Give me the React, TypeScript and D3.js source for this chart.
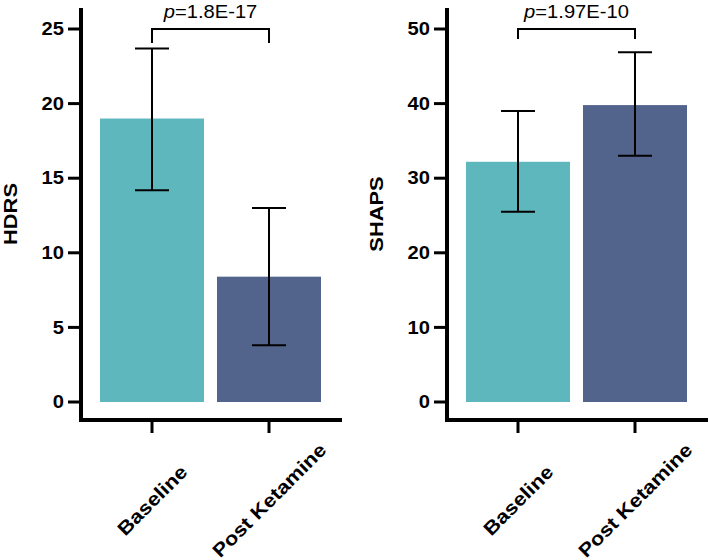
import * as d3 from 'd3';

const categories = ['Baseline', 'Post Ketamine'];
const hdrsMeans = [19.0, 8.4];
const hdrsLow = [14.2, 3.8];
const hdrsHigh = [23.7, 13.0];
const shapsMeans = [32.2, 39.8];
const shapsLow = [25.5, 33.0];
const shapsHigh = [39.0, 46.9];
const barColors = ['#5FB7BE', '#53648C'];

const FONT = '"Liberation Sans", Arial, Helvetica, sans-serif';
// the original type is a touch wider than Arial, so stretch it a bit
const WIDE = 1.15;

type PanelProps = {
  left: number;
  label: string;
  labelX: number;
  yMax: number;
  means: number[];
  lows: number[];
  highs: number[];
  pValue: string;
  bracketDrop: number;
};

const Panel = ({ left, label, labelX, yMax, means, lows, highs, pValue, bracketDrop }: PanelProps) => {
  const yScale = d3.scaleLinear().domain([0, yMax]).range([402, 29]);
  const xScale = d3
    .scaleBand()
    .domain(categories)
    .range([left + 12.5, left + 246.5])
    .paddingInner(0.111)
    .paddingOuter(0.0555);
  const bw = xScale.bandwidth();
  const axisY = 420;
  const right = left + 261;

  const bars = categories.map((c, i) => {
    const x = xScale(c) ?? 0;
    const cx = x + bw / 2;
    return (
      <g key={c}>
        <rect x={x} y={yScale(means[i])} width={bw} height={yScale(0) - yScale(means[i])} fill={barColors[i]} />
        <line x1={cx} x2={cx} y1={yScale(highs[i])} y2={yScale(lows[i])} stroke="#000" strokeWidth={2} />
        <line x1={cx - 17} x2={cx + 17} y1={yScale(highs[i])} y2={yScale(highs[i])} stroke="#000" strokeWidth={2} />
        <line x1={cx - 17} x2={cx + 17} y1={yScale(lows[i])} y2={yScale(lows[i])} stroke="#000" strokeWidth={2} />
      </g>
    );
  });

  const yTicks = yScale.ticks(5).map((t) => (
    <g key={t}>
      <line x1={left - 13} x2={left} y1={yScale(t)} y2={yScale(t)} stroke="#000" strokeWidth={3} />
      <text
        transform={`translate(${left - 17},${yScale(t)}) scale(1.12,1)`}
        textAnchor="end"
        dominantBaseline="central"
        fontSize={18}
        fontWeight="bold"
        fontFamily={FONT}
      >
        {t}
      </text>
    </g>
  ));

  const xTicks = categories.map((c) => {
    const cx = (xScale(c) ?? 0) + bw / 2;
    return (
      <g key={c}>
        <line x1={cx} x2={cx} y1={axisY} y2={axisY + 13} stroke="#000" strokeWidth={3} />
        <text
          transform={`translate(${cx},500) rotate(-45) scale(${WIDE},1)`}
          textAnchor="middle"
          dominantBaseline="central"
          fontSize={19}
          fontWeight="bold"
          fontFamily={FONT}
        >
          {c}
        </text>
      </g>
    );
  });

  const x0 = (xScale(categories[0]) ?? 0) + bw / 2;
  const x1 = (xScale(categories[1]) ?? 0) + bw / 2;
  const bTop = 29;

  return (
    <g>
      {bars}
      <line x1={left} x2={left} y1={8} y2={axisY + 2} stroke="#000" strokeWidth={4} />
      <line x1={left - 2} x2={right} y1={axisY} y2={axisY} stroke="#000" strokeWidth={4} />
      {yTicks}
      {xTicks}
      <path
        d={`M${x0},${bTop + bracketDrop}V${bTop}H${x1}V${bTop + bracketDrop}`}
        fill="none"
        stroke="#000"
        strokeWidth={2}
      />
      <text
        transform={`translate(${(x0 + x1) / 2},18) scale(1.12,1)`}
        textAnchor="middle"
        fontSize={18}
        fontFamily={FONT}
      >
        <tspan fontStyle="italic">p</tspan>={pValue}
      </text>
      <text
        transform={`translate(${labelX},214) rotate(-90) scale(${WIDE},1)`}
        textAnchor="middle"
        dominantBaseline="central"
        fontSize={19}
        fontWeight="bold"
        fontFamily={FONT}
      >
        {label}
      </text>
    </g>
  );
};

export default function App() {
  return (
    <svg width={709} height={560} style={{ position: 'absolute', left: 0, top: 0, background: '#fff' }}>
      <Panel
        left={81}
        label="HDRS"
        labelX={10}
        yMax={25}
        means={hdrsMeans}
        lows={hdrsLow}
        highs={hdrsHigh}
        pValue="1.8E-17"
        bracketDrop={14}
      />
      <Panel
        left={447}
        label="SHAPS"
        labelX={376}
        yMax={50}
        means={shapsMeans}
        lows={shapsLow}
        highs={shapsHigh}
        pValue="1.97E-10"
        bracketDrop={10}
      />
    </svg>
  );
}
